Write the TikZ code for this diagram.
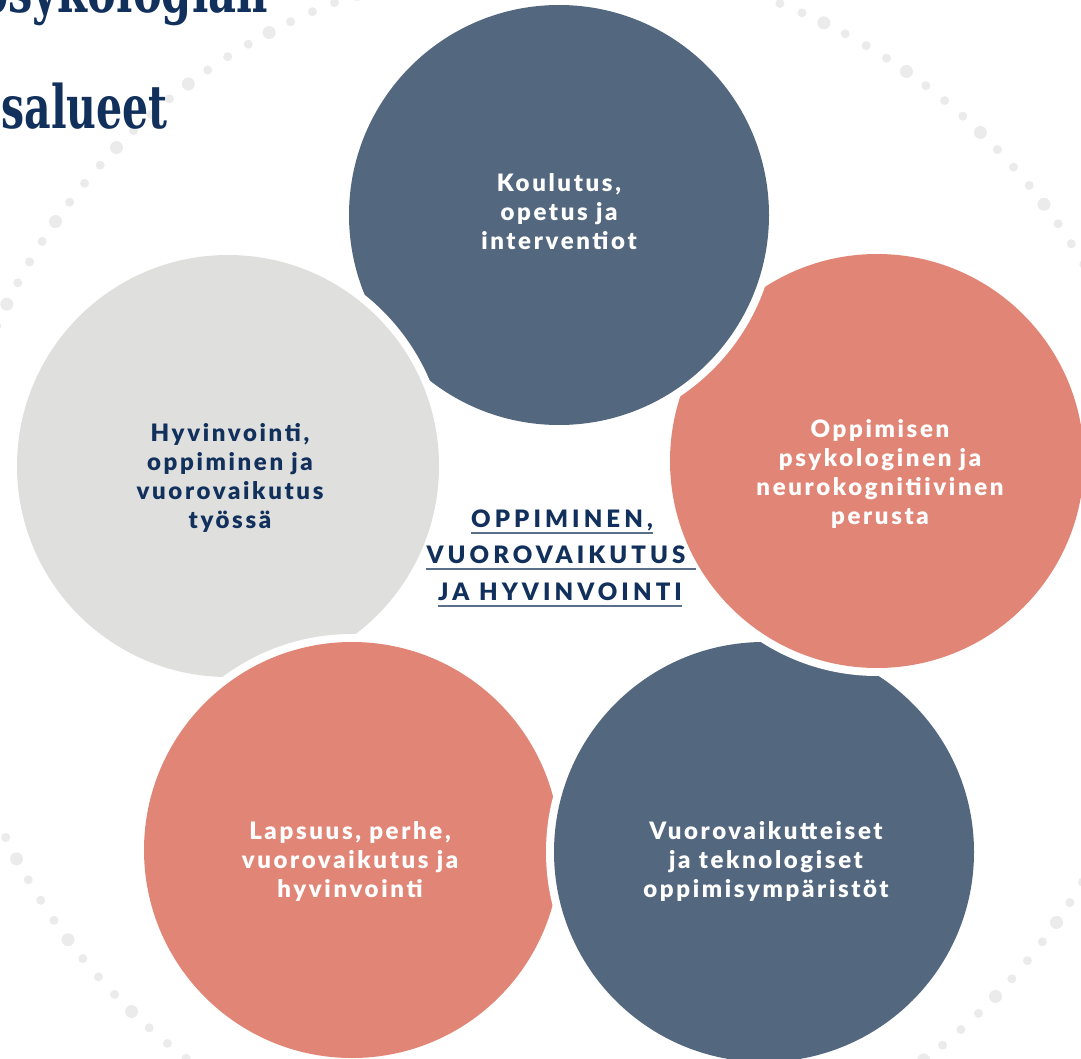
\documentclass[tikz,border=0pt]{standalone}
\usepackage{fontspec}
\newfontfamily\lato{Lato Black}[LetterSpace=11]
\newfontfamily\latoc{Lato Black}[LetterSpace=17]
\newfontfamily\slab{DejaVu Serif Condensed}
\definecolor{cblue}{HTML}{53677F}
\definecolor{csalmon}{HTML}{E18677}
\definecolor{cgray}{HTML}{DFE0DE}
\definecolor{cnavy}{HTML}{12305C}
\definecolor{cdot}{HTML}{EBEBEB}
\definecolor{cline}{HTML}{5A6F8A}
\tikzset{
  circtext/.style={align=center, inner sep=0pt, font=\lato\fontsize{24}{29}\selectfont},
  midtext/.style={inner sep=0pt, anchor=base, text=cnavy, font=\latoc\fontsize{24}{26}\selectfont},
  uline/.style={cline, line width=1.8pt},
  titletext/.style={inner sep=0pt, anchor=base east, text=cnavy, font=\slab\bfseries\fontsize{60}{60}\selectfont},
}
\newcommand{\bubble}[4]{% x, y, r, colour
  \fill[white] (#1,#2) circle ({#3pt+8pt});
  \fill[#4] (#1,#2) circle (#3pt);
}
\begin{document}
\begin{tikzpicture}[x=1pt,y=-1pt]
\useasboundingbox (0,0) rectangle (1081,1059);
\clip (0,0) rectangle (1081,1059);
% dotted ring
\foreach \i in {0,...,159}{
  \pgfmathsetmacro{\ang}{64+\i*2.25}
  \pgfmathsetmacro{\rr}{mod(\i,4)==0 ? 6.5 : 4.5}
  \fill[cdot] ({556+611*cos(\ang)},{572-611*sin(\ang)}) circle (\rr pt);
}
% title (cut off)
\node[titletext] (t1) at (268,13) {\scalebox{0.8}[1]{psykologian}};
\node[titletext] (t2) at (168,129) {\scalebox{0.76}[1]{salueet}};
% bubbles, each over its clockwise neighbour
\bubble{228}{466}{211}{cgray}
\bubble{352}{850}{208}{csalmon}
\bubble{764}{852}{210}{cblue}
\bubble{877}{461}{207}{csalmon}
\bubble{559}{215}{210}{cblue}
\begin{scope}
  \clip (0,0) rectangle (560,450);
  \bubble{228}{466}{211}{cgray}
\end{scope}
% bubble texts
\node[circtext, text=white] (b1) at (559,212) {Koulutus,\\opetus ja\\interventiot};
\node[circtext, text=white] (b2) at (880,474) {Oppimisen\\psykologinen ja\\neurokognitiivinen\\perusta};
\node[circtext, text=white] (b3) at (766,861) {Vuorovaikutteiset\\ja teknologiset\\oppimisympäristöt};
\node[circtext, text=white] (b4) at (350,861) {Lapsuus, perhe,\\vuorovaikutus ja\\hyvinvointi};
\node[circtext, text=cnavy] (b5) at (230,478) {Hyvinvointi,\\oppiminen ja\\vuorovaikutus\\työssä};
% centre title
\node[midtext] (m1) at (562,527) {OPPIMINEN,};
\node[midtext] (m2) at (556,563) {VUOROVAIKUTUS};
\node[midtext] (m3) at (560,600) {JA HYVINVOINTI};
\draw[uline] ([yshift=-6pt]m1.base west) -- ([yshift=-6pt]m1.base east);
\draw[uline] ([yshift=-6pt]m2.base west) -- ([xshift=10pt,yshift=-6pt]m2.base east);
\draw[uline] ([yshift=-6pt]m3.base west) -- ([yshift=-6pt]m3.base east);
\end{tikzpicture}
\end{document}
